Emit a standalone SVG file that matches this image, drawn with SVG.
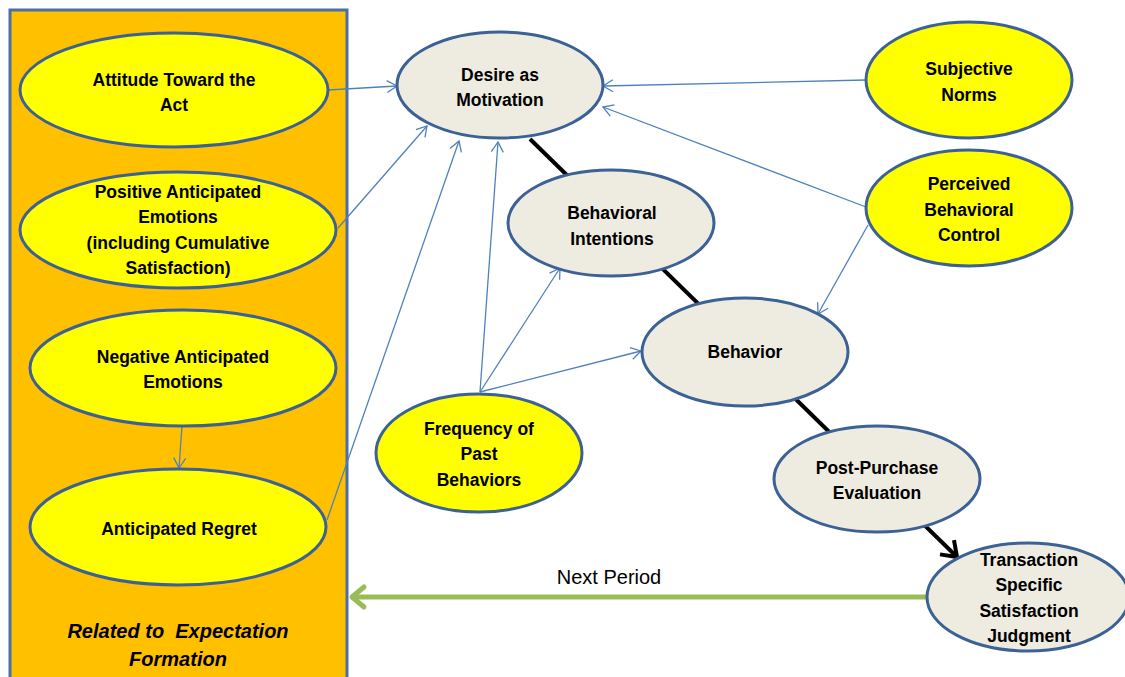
<svg xmlns="http://www.w3.org/2000/svg" width="1125" height="677" viewBox="0 0 1125 677">
<style>
.n{stroke:#3B6195;stroke-width:3}
.y{fill:#FFFF00}
.g{fill:#EEECE1}
.t{font-family:"Liberation Sans",Arial,sans-serif;font-weight:bold;font-size:17.5px;fill:#000;text-anchor:middle}
.i{font-size:20px;font-style:italic;white-space:pre}
.b{fill:none;stroke:#4F81BD;stroke-width:1.3}
</style>
<defs>
<marker id="ab" markerUnits="userSpaceOnUse" markerWidth="16" markerHeight="16" refX="12" refY="8" orient="auto">
<path d="M2,2 L12,8 L2,14" fill="none" stroke="#4F81BD" stroke-width="1.3"/>
</marker>
<marker id="ak" markerUnits="userSpaceOnUse" markerWidth="26" markerHeight="26" refX="20" refY="13" orient="auto">
<path d="M6,3 L20,13 L6,23" fill="none" stroke="#000" stroke-width="4"/>
</marker>
<marker id="ag" markerUnits="userSpaceOnUse" markerWidth="28" markerHeight="28" refX="21" refY="14" orient="auto">
<path d="M9,4 L21,14 L9,24" fill="none" stroke="#9BBB59" stroke-width="5" stroke-linecap="round" stroke-linejoin="round"/>
</marker>
</defs>
<rect x="0" y="0" width="1125" height="677" fill="#fff"/>
<g id="group-box">
<rect x="10" y="10" width="337" height="680" fill="#FFC000" stroke="#4A6FA5" stroke-width="3"/>
<text class="t i" x="178" y="638" xml:space="preserve">Related to  Expectation</text>
<text class="t i" x="178" y="666">Formation</text>
</g>
<g id="connectors">
<line x1="530" y1="139" x2="957" y2="557" stroke="#000" stroke-width="4" marker-end="url(#ak)"/>
<line x1="927" y1="597" x2="352" y2="597" stroke="#9BBB59" stroke-width="5" marker-end="url(#ag)"/>
<line class="b" x1="328" y1="90" x2="397" y2="86" marker-end="url(#ab)"/>
<line class="b" x1="338" y1="228" x2="427" y2="126" marker-end="url(#ab)"/>
<line class="b" x1="327" y1="520" x2="459" y2="141" marker-end="url(#ab)"/>
<line class="b" x1="480" y1="392" x2="498" y2="142" marker-end="url(#ab)"/>
<line class="b" x1="480" y1="392" x2="560" y2="268" marker-end="url(#ab)"/>
<line class="b" x1="480" y1="392" x2="641" y2="351" marker-end="url(#ab)"/>
<line class="b" x1="866" y1="80" x2="603" y2="86" marker-end="url(#ab)"/>
<line class="b" x1="866" y1="207" x2="603" y2="107" marker-end="url(#ab)"/>
<line class="b" x1="868" y1="225" x2="818" y2="314" marker-end="url(#ab)"/>
<line class="b" x1="182" y1="426" x2="179" y2="468" marker-end="url(#ab)"/>
</g>
<g id="n-attitude">
<ellipse class="n y" cx="174" cy="90" rx="154" ry="57"/>
<text class="t" x="174" y="86">Attitude Toward the</text>
<text class="t" x="174" y="111">Act</text>
</g>
<g id="n-positive">
<ellipse class="n y" cx="178" cy="230" rx="158" ry="58"/>
<text class="t" x="178" y="198">Positive Anticipated</text>
<text class="t" x="178" y="223">Emotions</text>
<text class="t" x="178" y="249">(including Cumulative</text>
<text class="t" x="178" y="274">Satisfaction)</text>
</g>
<g id="n-negative">
<ellipse class="n y" cx="183" cy="368" rx="153" ry="58"/>
<text class="t" x="183" y="363">Negative Anticipated</text>
<text class="t" x="183" y="388">Emotions</text>
</g>
<g id="n-regret">
<ellipse class="n y" cx="178" cy="527" rx="148" ry="58"/>
<text class="t" x="179" y="535">Anticipated Regret</text>
</g>
<g id="n-desire">
<ellipse class="n g" cx="500" cy="85" rx="103" ry="53"/>
<text class="t" x="500" y="81">Desire as</text>
<text class="t" x="500" y="106">Motivation</text>
</g>
<g id="n-intentions">
<ellipse class="n g" cx="611" cy="223" rx="103" ry="53"/>
<text class="t" x="612" y="219">Behavioral</text>
<text class="t" x="612" y="245">Intentions</text>
</g>
<g id="n-norms">
<ellipse class="n y" cx="969" cy="80" rx="103" ry="58"/>
<text class="t" x="969" y="75">Subjective</text>
<text class="t" x="969" y="101">Norms</text>
</g>
<g id="n-pbc">
<ellipse class="n y" cx="969" cy="208" rx="103" ry="58"/>
<text class="t" x="969" y="190">Perceived</text>
<text class="t" x="969" y="216">Behavioral</text>
<text class="t" x="969" y="241">Control</text>
</g>
<g id="n-behavior">
<ellipse class="n g" cx="745" cy="352" rx="103" ry="54"/>
<text class="t" x="745" y="358">Behavior</text>
</g>
<g id="n-frequency">
<ellipse class="n y" cx="479" cy="453" rx="103" ry="59"/>
<text class="t" x="479" y="435">Frequency of</text>
<text class="t" x="479" y="460">Past</text>
<text class="t" x="479" y="486">Behaviors</text>
</g>
<g id="n-ppe">
<ellipse class="n g" cx="877" cy="479" rx="103" ry="53"/>
<text class="t" x="877" y="474">Post-Purchase</text>
<text class="t" x="877" y="499">Evaluation</text>
</g>
<g id="n-tssj">
<ellipse class="n g" cx="1028" cy="597" rx="101" ry="54"/>
<text class="t" x="1029" y="566">Transaction</text>
<text class="t" x="1029" y="591">Specific</text>
<text class="t" x="1029" y="617">Satisfaction</text>
<text class="t" x="1029" y="642">Judgment</text>
</g>
<text x="609" y="584" font-family="'Liberation Sans',Arial,sans-serif" font-size="20" text-anchor="middle" fill="#000">Next Period</text>
</svg>
